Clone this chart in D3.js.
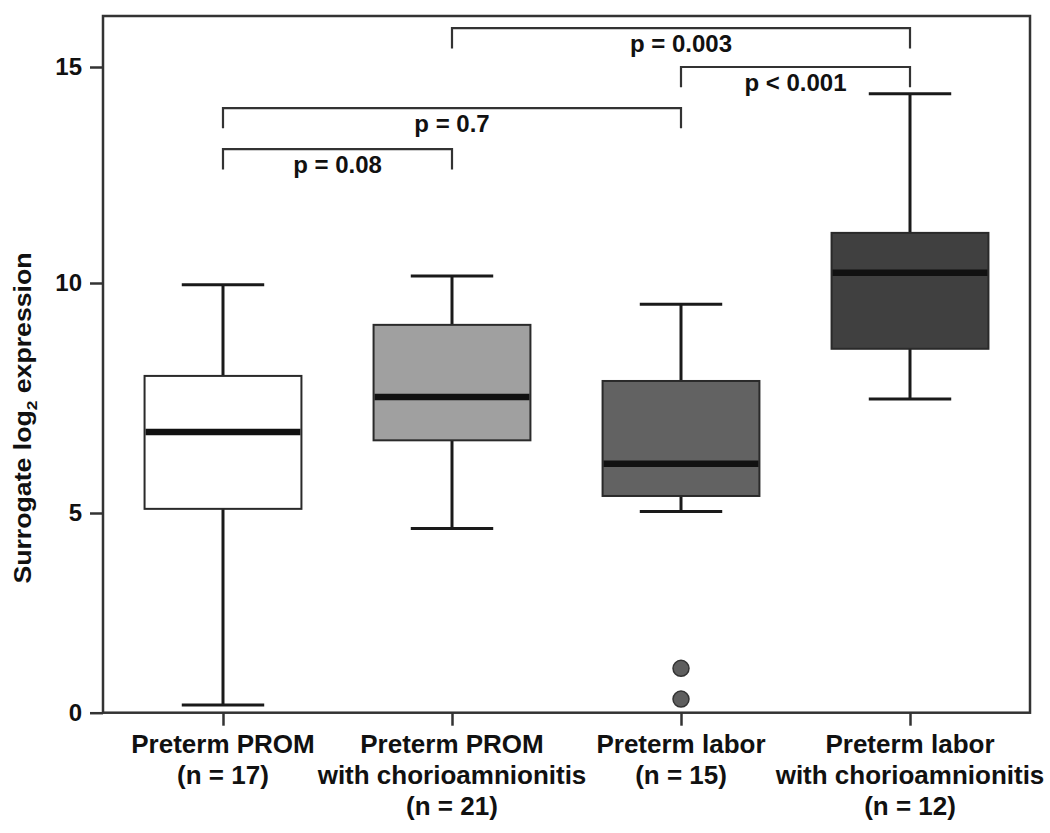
<!DOCTYPE html>
<html>
<head>
<meta charset="utf-8">
<script src="https://cdn.jsdelivr.net/npm/d3@7"></script>
<style>
  html, body { margin: 0; padding: 0; background: #fff; }
  svg text { font-family: "Liberation Sans", Arial, Helvetica, sans-serif; font-weight: bold; fill: #111; }
</style>
</head>
<body>
<svg id="chart" width="1050" height="833"></svg>
<script>
// ---- Data ----
const categories = ["PPROM", "PPROM_chorio", "PTL", "PTL_chorio"];
const labelLines = [
  ["Preterm PROM", "(n = 17)"],
  ["Preterm PROM", "with chorioamnionitis", "(n = 21)"],
  ["Preterm labor", "(n = 15)"],
  ["Preterm labor", "with chorioamnionitis", "(n = 12)"]
];
const whiskerLow  = [0.19, 4.61, 5.03, 7.48];
const q1          = [5.09, 6.58, 5.37, 8.57];
const median      = [6.76, 7.52, 6.07, 10.24];
const q3          = [7.98, 9.09, 7.87, 11.16];
const whiskerHigh = [9.96, 10.16, 9.54, 14.38];
const outliers    = [[], [], [1.11, 0.34], []];
const boxFills    = ["#ffffff", "#a0a0a0", "#626262", "#404040"];
const yTicks      = [0, 5, 10, 15];
// significance brackets
const bracketFrom  = [1, 2, 0, 0];
const bracketTo    = [3, 3, 2, 1];
const bracketLevel = [15.9, 15.0, 14.05, 13.1];
const bracketLabel = ["p = 0.003", "p < 0.001", "p = 0.7", "p = 0.08"];
const legDrop = 0.47;

// ---- Layout ----
const svg = d3.select("#chart");
const plotLeft = 103, plotRight = 1030, plotTop = 16, plotBottom = 712.7;

const x = d3.scalePoint().domain(categories).range([plotLeft, plotRight]).padding(0.524);
// y scale follows the reference axis tick placement
const y = d3.scaleLinear().domain([0, 5, 10, 15, 16.18]).range([plotBottom, 513, 283, 67, plotTop]);

const step = x.step();
const boxW = step * 0.685;
const capW = step * 0.36;

// frame
svg.append("rect")
  .attr("x", plotLeft).attr("y", plotTop)
  .attr("width", plotRight - plotLeft).attr("height", plotBottom - plotTop)
  .attr("fill", "none").attr("stroke", "#333").attr("stroke-width", 2.5);

// y axis
const yAxis = svg.append("g").attr("transform", `translate(${plotLeft},0)`)
  .call(d3.axisLeft(y).tickValues(yTicks).tickSize(13).tickPadding(8).tickFormat(d3.format("d")));
yAxis.select(".domain").remove();
yAxis.selectAll(".tick line").attr("stroke", "#333").attr("stroke-width", 2.5);
yAxis.selectAll(".tick text").style("font-size", "24px").attr("fill", "#111");

// x axis
const xAxis = svg.append("g").attr("transform", `translate(0,${plotBottom})`)
  .call(d3.axisBottom(x).tickSize(13).tickFormat(""));
xAxis.select(".domain").remove();
xAxis.selectAll(".tick line").attr("stroke", "#333").attr("stroke-width", 2.5);

// x labels
categories.forEach((c, i) => {
  const t = svg.append("text")
    .attr("x", x(c)).attr("y", 753)
    .attr("text-anchor", "middle")
    .style("font-size", "26px");
  labelLines[i].forEach((line, j) => {
    t.append("tspan").attr("x", x(c)).attr("dy", j === 0 ? 0 : 31).text(line);
  });
});

// y title
const yt = svg.append("text")
  .attr("transform", "translate(31,418) scale(1,1.16) rotate(-90)")
  .attr("text-anchor", "middle")
  .style("font-size", "23px");
yt.append("tspan").text("Surrogate log");
yt.append("tspan").attr("dy", 6).style("font-size", "15px").text("2");
yt.append("tspan").attr("dy", -6).text(" expression");

// boxes
const g = svg.append("g");
categories.forEach((c, i) => {
  const cx = x(c);
  g.append("line").attr("x1", cx).attr("x2", cx).attr("y1", y(whiskerHigh[i])).attr("y2", y(q3[i]))
    .attr("stroke", "#1a1a1a").attr("stroke-width", 3);
  g.append("line").attr("x1", cx).attr("x2", cx).attr("y1", y(q1[i])).attr("y2", y(whiskerLow[i]))
    .attr("stroke", "#1a1a1a").attr("stroke-width", 3);
  [whiskerHigh[i], whiskerLow[i]].forEach(v => {
    g.append("line").attr("x1", cx - capW / 2).attr("x2", cx + capW / 2).attr("y1", y(v)).attr("y2", y(v))
      .attr("stroke", "#1a1a1a").attr("stroke-width", 3);
  });
  g.append("rect")
    .attr("x", cx - boxW / 2).attr("y", y(q3[i]))
    .attr("width", boxW).attr("height", y(q1[i]) - y(q3[i]))
    .attr("fill", boxFills[i]).attr("stroke", "#2a2a2a").attr("stroke-width", 2);
  g.append("line").attr("x1", cx - boxW / 2 + 1).attr("x2", cx + boxW / 2 - 1)
    .attr("y1", y(median[i])).attr("y2", y(median[i]))
    .attr("stroke", "#111").attr("stroke-width", 6.5);
  outliers[i].forEach(v => {
    g.append("circle").attr("cx", cx).attr("cy", y(v)).attr("r", 8)
      .attr("fill", "#5e5e5e").attr("stroke", "#333").attr("stroke-width", 1.5);
  });
});

// significance brackets
bracketLabel.forEach((lab, k) => {
  const x1 = x(categories[bracketFrom[k]]);
  const x2 = x(categories[bracketTo[k]]);
  const yl = y(bracketLevel[k]);
  const yb = y(bracketLevel[k] - legDrop);
  svg.append("path")
    .attr("d", `M${x1},${yb}V${yl}H${x2}V${yb}`)
    .attr("fill", "none").attr("stroke", "#333").attr("stroke-width", 2.2);
  svg.append("text")
    .attr("x", (x1 + x2) / 2).attr("y", yl + 24)
    .attr("text-anchor", "middle")
    .style("font-size", "24px")
    .text(lab);
});
</script>
</body>
</html>
